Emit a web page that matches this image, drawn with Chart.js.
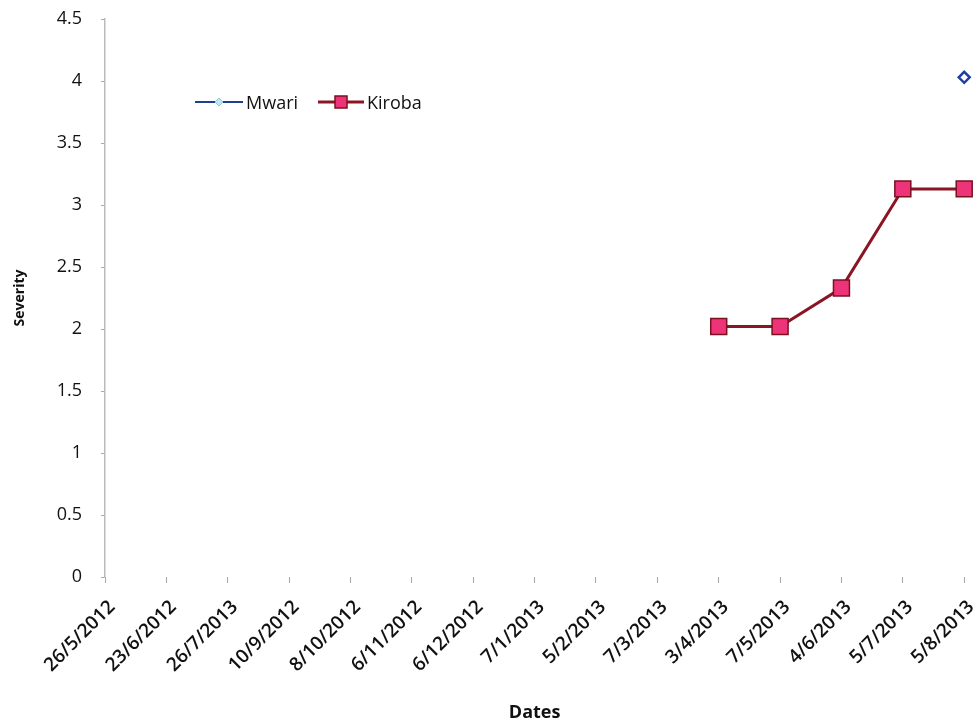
<!DOCTYPE html>
<html>
<head>
<meta charset="utf-8">
<script src="https://cdn.jsdelivr.net/npm/chart.js@4.4.0/dist/chart.umd.min.js"></script>
<style>
    html, body { margin: 0; padding: 0; background: #fff; }
    #wrap { position: relative; width: 977px; height: 724px; }
    #legend {
        position: absolute; left: 195px; top: 90px;
        font-family: "Open Sans", "DejaVu Sans", sans-serif; font-size: 18px; color: #111;
        display: flex; align-items: center; line-height: 24px;
    }
    .item { display: flex; align-items: center; margin-right: 20px; }
    .item svg { margin-right: 3px; }
</style>
</head>
<body>
<div id="wrap">
    <canvas id="severityChart" width="977" height="724"></canvas>
    <div id="legend">
        <span class="item">
            <svg width="48" height="14"><line x1="0" y1="7" x2="48" y2="7" stroke="#1f3f8f" stroke-width="2"/><path d="M24 3 L28 7 L24 11 L20 7 Z" fill="#bfe8f0" stroke="#8fc8dc" stroke-width="1"/></svg>Mwari
        </span>
        <span class="item">
            <svg width="46" height="16"><line x1="0" y1="8" x2="46" y2="8" stroke="#8a1525" stroke-width="3"/><rect x="17" y="2" width="12" height="12" fill="#ee3479" stroke="#7a1020" stroke-width="1.5"/></svg>Kiroba
        </span>
    </div>
</div>
<script>
const dates = ['26/5/2012', '23/6/2012', '26/7/2013', '10/9/2012', '8/10/2012', '6/11/2012', '6/12/2012',
    '7/1/2013', '5/2/2013', '7/3/2013', '3/4/2013', '7/5/2013', '4/6/2013', '5/7/2013', '5/8/2013'];
const mwari = [null, null, null, null, null, null, null, null, null, null, null, null, null, null, 4.03];
const kiroba = [null, null, null, null, null, null, null, null, null, null, 2.02, 2.02, 2.33, 3.13, 3.13];
const yTicks = [0, 0.5, 1, 1.5, 2, 2.5, 3, 3.5, 4, 4.5];

const fontFamily = '"Open Sans", "DejaVu Sans", sans-serif';

const ctx = document.getElementById('severityChart');
const chart = new Chart(ctx, {
    type: 'line',
    data: {
        labels: dates,
        datasets: [{
            label: 'Mwari',
            data: mwari,
            borderColor: '#1f3f8f',
            borderWidth: 2,
            pointStyle: 'rectRot',
            pointRadius: 5.5,
            pointBorderWidth: 2.5,
            pointBackgroundColor: '#ffffff',
            pointBorderColor: '#1f3f9f'
        }, {
            label: 'Kiroba',
            data: kiroba,
            borderColor: '#8a1525',
            borderWidth: 3,
            pointStyle: 'rect',
            pointRadius: 11.3,
            pointBorderWidth: 1.5,
            pointBackgroundColor: '#ee3479',
            pointBorderColor: '#7a1020',
            tension: 0
        }]
    },
    options: {
        responsive: false,
        animation: false,
        layout: { padding: { left: 0, right: 11, top: 19, bottom: 0 } },
        plugins: {
            legend: { display: false },
            tooltip: { enabled: false }
        },
        scales: {
            x: {
                offset: false,
                grid: { display: true, drawOnChartArea: false, drawTicks: true, tickLength: 6, color: '#aaa' },
                border: { display: false },
                ticks: {
                    autoSkip: false, maxRotation: 45, minRotation: 45,
                    color: '#111', font: { family: fontFamily, size: 19, weight: '600' },
                    padding: 13, labelOffset: 7
                },
                title: {
                    display: true, text: 'Dates', color: '#111',
                    font: { family: fontFamily, size: 18, weight: 'bold' },
                    padding: { top: 4, bottom: 0 }
                },
                afterFit: scale => {
                    scale.height = 147;
                    scale.paddingLeft = 0;
                    scale.paddingRight = 0;
                }
            },
            y: {
                min: 0, max: 4.5,
                afterBuildTicks: scale => { scale.ticks = yTicks.map(v => ({ value: v })); },
                grid: { display: true, drawOnChartArea: false, drawTicks: true, tickLength: 4, color: '#aaa' },
                border: { display: true, color: '#bbb', width: 1.5, dash: [6, 3] },
                ticks: {
                    color: '#111', font: { family: fontFamily, size: 18, weight: '500' }, padding: 19,
                    callback: value => String(value)
                },
                title: {
                    display: true, text: 'Severity', color: '#111',
                    font: { family: fontFamily, size: 14, weight: 'bold' },
                    padding: { top: 12, bottom: 0 }
                },
                afterFit: scale => {
                    scale.width = 105;
                    scale.paddingTop = 0;
                    scale.paddingBottom = 0;
                }
            }
        }
    }
});
</script>
</body>
</html>
